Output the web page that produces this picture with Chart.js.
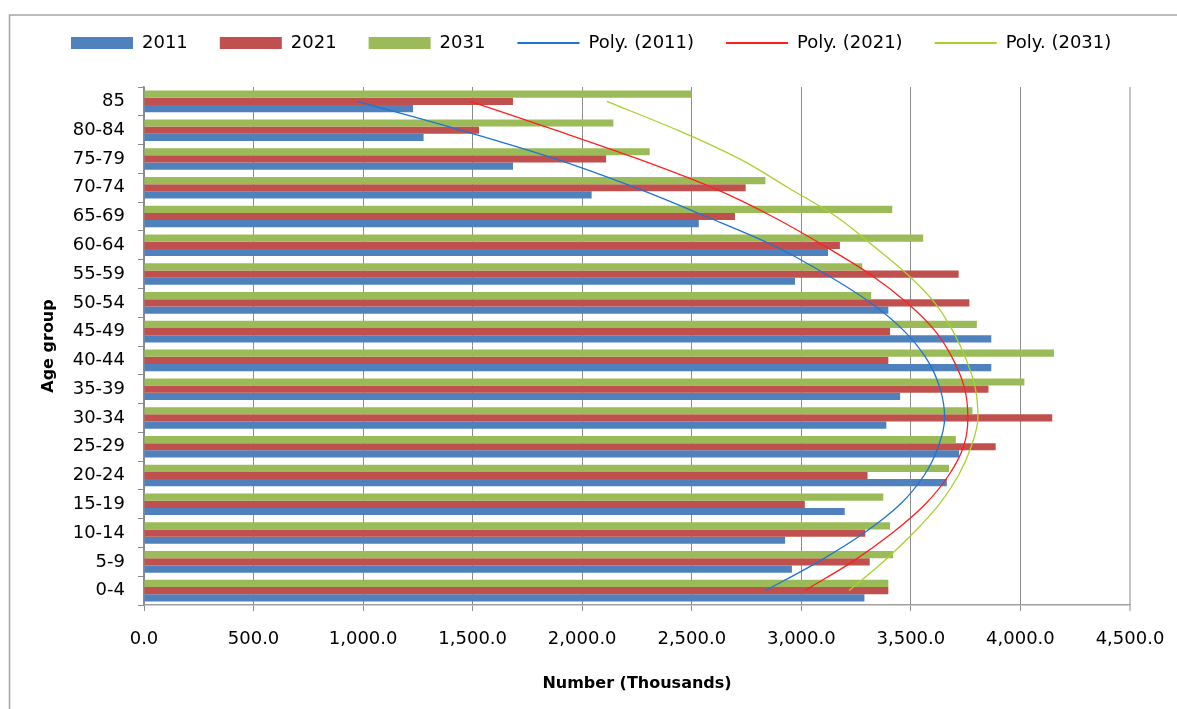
<!DOCTYPE html>
<html>
<head>
<meta charset="utf-8">
<title>Population by age group</title>
<script src="https://cdn.jsdelivr.net/npm/chart.js@4.4.1/dist/chart.umd.min.js"></script>
<style>
  html, body { margin: 0; padding: 0; background: #ffffff; }
  #wrap { width: 1177px; height: 709px; position: relative; }
</style>
</head>
<body>
<div id="wrap"><canvas id="chart"></canvas></div>
<script>
// Age groups, listed from the top row of the chart to the bottom row
const ageGroups = ['85', '80-84', '75-79', '70-74', '65-69', '60-64', '55-59', '50-54', '45-49',
                   '40-44', '35-39', '30-34', '25-29', '20-24', '15-19', '10-14', '5-9', '0-4'];

// Population (thousands) per age group
const pop2011 = [1228, 1276, 1684, 2043, 2532, 3122, 2971, 3397, 3867, 3867, 3451, 3388, 3720, 3664, 3198, 2926, 2957, 3288];
const pop2021 = [1684, 1529, 2109, 2746, 2697, 3176, 3718, 3767, 3405, 3397, 3854, 4145, 3887, 3302, 3016, 3292, 3312, 3397];
const pop2031 = [2500, 2142, 2308, 2836, 3415, 3556, 3278, 3319, 3801, 4153, 4018, 3781, 3705, 3674, 3374, 3405, 3419, 3397];

// Polynomial trend lines, one value per age group
const poly2011 = [973, 1445, 1878, 2243, 2565, 2871, 3110, 3316, 3472, 3576, 3634, 3654, 3625, 3560, 3451, 3286, 3077, 2836];
const poly2021 = [1488, 1878, 2255, 2595, 2868, 3100, 3312, 3482, 3613, 3695, 3746, 3760, 3740, 3672, 3565, 3415, 3232, 3016];
const poly2031 = [2112, 2435, 2718, 2940, 3159, 3325, 3482, 3609, 3693, 3754, 3795, 3806, 3775, 3717, 3629, 3511, 3374, 3218];

// Axis range
const xMin = 0, xMax = 4500, xStep = 500;

const legendOrder = ['2011', '2021', '2031', 'Poly. (2011)', 'Poly. (2021)', 'Poly. (2031)'];

Chart.defaults.font.family = "'DejaVu Sans', sans-serif";
Chart.defaults.font.size = 18;
Chart.defaults.color = '#000000';

// White background and the outer frame of the chart
const frame = {
  id: 'frame',
  beforeDraw(chart) {
    const ctx = chart.ctx;
    ctx.save();
    ctx.fillStyle = '#ffffff';
    ctx.fillRect(0, 0, chart.width, chart.height);
    ctx.strokeStyle = '#a6a6a6';
    ctx.lineWidth = 1.5;
    ctx.beginPath();
    ctx.moveTo(9.5, chart.height);
    ctx.lineTo(9.5, 15);
    ctx.lineTo(chart.width, 15);
    ctx.stroke();
    ctx.restore();
  }
};

// Single-row legend in a fixed band above the plot
const legendBand = {
  id: 'legendBand',
  beforeInit(chart) {
    const fit = chart.legend.fit;
    chart.legend.fit = function () {
      this.maxWidth = 1400;
      fit.call(this);
      this.height = 85;
    };
  },
  afterLayout(chart) {
    chart.legend.right = 1400;
    chart.legend.width = chart.legend.right - chart.legend.left;
  }
};

const trend = (label, data, color) => ({
  type: 'line',
  label,
  data,
  indexAxis: 'y',
  borderColor: color,
  backgroundColor: color,
  borderWidth: 1.3,
  pointRadius: 0,
  cubicInterpolationMode: 'monotone',
  fill: false,
  order: -1
});

const bars = (label, data, color) => ({
  type: 'bar',
  label,
  data,
  backgroundColor: color,
  borderWidth: 0,
  categoryPercentage: 0.75,
  barPercentage: 1.0
});

new Chart(document.getElementById('chart'), {
  data: {
    labels: ageGroups,
    datasets: [
      trend('Poly. (2011)', poly2011, '#1d74d6'),
      trend('Poly. (2021)', poly2021, '#ff1f1f'),
      trend('Poly. (2031)', poly2031, '#a9d12e'),
      bars('2031', pop2031, '#9bbb59'),
      bars('2021', pop2021, '#c0504d'),
      bars('2011', pop2011, '#4f81bd')
    ]
  },
  options: {
    indexAxis: 'y',
    responsive: true,
    maintainAspectRatio: false,
    animation: false,
    layout: { padding: { top: 2, left: 39, right: 47, bottom: 12 } },
    plugins: {
      tooltip: { enabled: false },
      legend: {
        position: 'top',
        align: 'start',
        labels: {
          usePointStyle: true,
          pointStyleWidth: 62,
          boxHeight: 12,
          padding: 32,
          color: '#000000',
          font: { size: 18 },
          sort: (a, b) => legendOrder.indexOf(a.text) - legendOrder.indexOf(b.text),
          generateLabels(chart) {
            const items = Chart.defaults.plugins.legend.labels.generateLabels(chart);
            items.forEach(item => {
              const ds = chart.data.datasets[item.datasetIndex];
              if (ds.type === 'line') {
                item.pointStyle = 'line';
                item.lineWidth = 2;
                item.strokeStyle = ds.borderColor;
              } else {
                item.pointStyle = 'rect';
                item.lineWidth = 0;
              }
            });
            return items;
          }
        }
      }
    },
    scales: {
      x: {
        type: 'linear',
        min: xMin,
        max: xMax,
        afterFit(scale) {
          scale.height = 92;
          scale.paddingRight = 0;
          scale.paddingLeft = 0;
        },
        ticks: {
          stepSize: xStep,
          padding: 18,
          font: { size: 18 },
          color: '#000000',
          callback: v => Number(v).toLocaleString('en-US', { minimumFractionDigits: 1, maximumFractionDigits: 1 })
        },
        grid: {
          color: ctx => (ctx.tick && ctx.tick.value === xMax) ? '#c4c4c4' : '#8c8c8c',
          lineWidth: ctx => (ctx.tick && ctx.tick.value === xMax) ? 2 : 1,
          tickLength: 6
        },
        border: { color: '#a0a0a0', width: 1.5 },
        title: {
          display: true,
          text: 'Number (Thousands)',
          color: '#000000',
          font: { size: 16, weight: 'bold' },
          padding: { top: 4, bottom: 4 }
        }
      },
      y: {
        type: 'category',
        afterFit(scale) { scale.width = 105; },
        ticks: { padding: 13, font: { size: 18 }, color: '#000000' },
        grid: {
          offset: true,
          drawOnChartArea: false,
          tickLength: 6,
          color: '#8c8c8c'
        },
        border: { color: '#8c8c8c', width: 1.5 },
        title: {
          display: true,
          text: 'Age group',
          color: '#000000',
          font: { size: 16, weight: 'bold' },
          padding: { top: 0, bottom: 0 }
        }
      }
    }
  },
  plugins: [frame, legendBand]
});
</script>
</body>
</html>
